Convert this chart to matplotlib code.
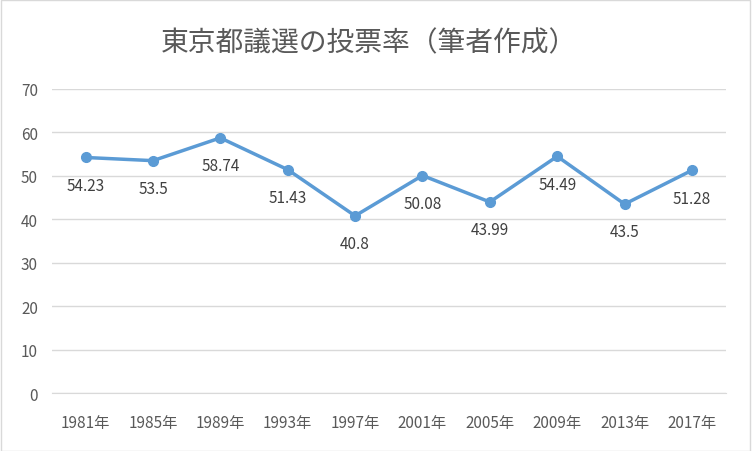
import matplotlib.pyplot as plt

plt.rcParams['font.family'] = ['Noto Sans CJK JP']

years = ['1981年', '1985年', '1989年', '1993年', '1997年', '2001年', '2005年', '2009年', '2013年', '2017年']
turnout = [54.23, 53.5, 58.74, 51.43, 40.8, 50.08, 43.99, 54.49, 43.5, 51.28]

fig = plt.figure(figsize=(7.52, 4.52), dpi=100)
ax = fig.add_axes([0.069, 0.128, 0.896, 0.673])

x = range(len(years))
ax.plot(x, turnout, color='#5B9BD5', linewidth=2.5, marker='o', markersize=7)
for i, v in enumerate(turnout):
    ax.annotate(f'{v:g}', (i, v), xytext=(0, -20), textcoords='offset points',
                ha='center', va='center', fontsize=11, color='#404040')

ax.set_xlim(-0.5, len(years) - 0.5)
ax.set_ylim(0, 70)
ax.set_yticks(range(0, 71, 10))
ax.set_xticks(list(x))
ax.set_xticklabels(years)
ax.grid(axis='y', color='#D9D9D9', linewidth=1)
ax.set_axisbelow(True)
for s in ['top', 'right', 'left']:
    ax.spines[s].set_visible(False)
ax.spines['bottom'].set_color('#D9D9D9')
ax.tick_params(length=0, labelsize=11, colors='#595959')
ax.tick_params(axis='x', pad=15)
ax.tick_params(axis='y', pad=10)

fig.text(0.49, 0.905, '東京都議選の投票率（筆者作成）', ha='center', va='center',
         fontsize=20, color='#595959')
fig.patches.append(plt.Rectangle((0.001, 0.001), 0.997, 0.997, transform=fig.transFigure,
                                 fill=False, edgecolor='#D9D9D9', linewidth=1))

fig.savefig('out.png', dpi=100)
